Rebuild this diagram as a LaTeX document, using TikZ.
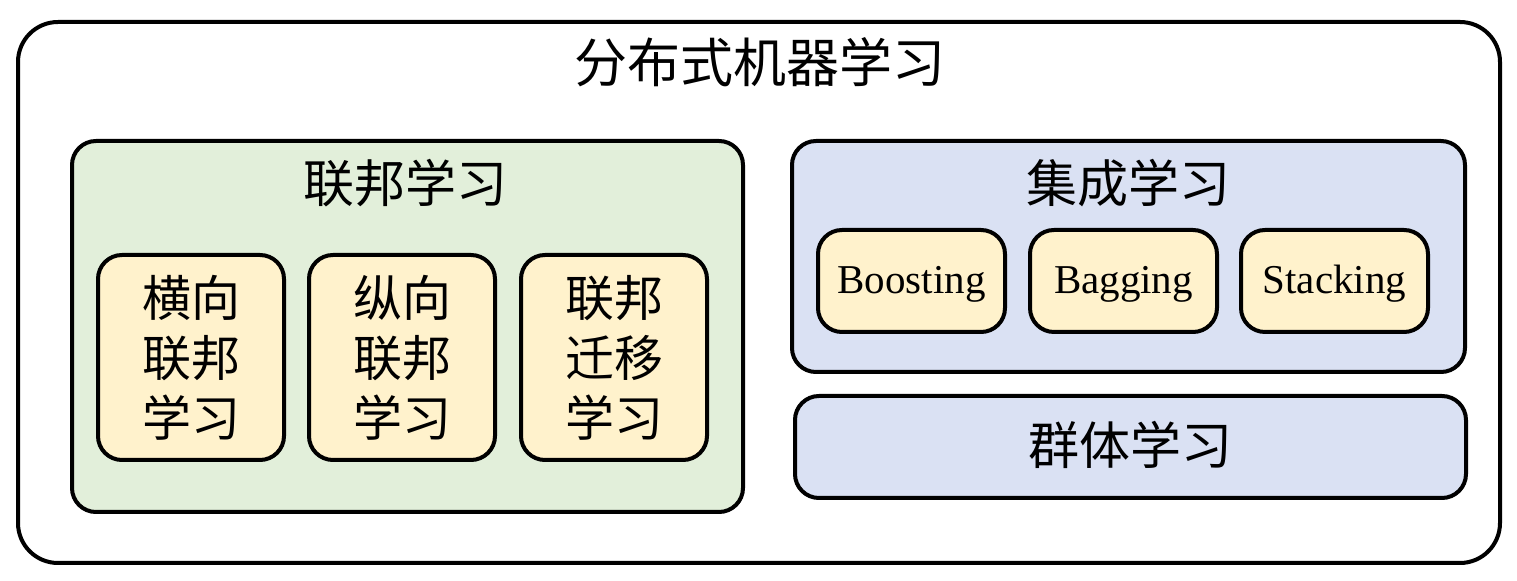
\documentclass[tikz,border=0pt]{standalone}
\usepackage{fontspec}
\setmainfont{Liberation Serif}
\newfontfamily\cjk{Noto Sans CJK SC}
\definecolor{gfill}{HTML}{E2EFDA}
\definecolor{yfill}{HTML}{FFF2CC}
\definecolor{bfill}{HTML}{DAE1F3}
\begin{document}
\begin{tikzpicture}[x=0.5pt,y=-0.5pt,
  box/.style={draw=black,line width=2pt,rounded corners=#1},
  box/.default=12pt,
  cjktitle/.style={font=\cjk\fontsize{25.5}{28}\selectfont},
  cjkinner/.style={font=\cjk\fontsize{24.5}{30}\selectfont,align=center},
  entext/.style={font=\fontsize{20.5}{24}\selectfont}]
\useasboundingbox (0,0) rectangle (1517,581);
% outer
\draw[box=20pt,fill=white] (18,22) rectangle (1500,563);
\node[font=\cjk\fontsize{26.5}{28}\selectfont] (title) at (760,62) {分布式机器学习};
% federated
\draw[box=12pt,fill=gfill] (72,141) rectangle (743,512);
\node[cjktitle] (fed) at (405,183) {联邦学习};
\draw[box=12pt,fill=yfill] (98,255) rectangle (284,460);
\node[cjkinner] (h) at (191,358) {横向\\联邦\\学习};
\draw[box=12pt,fill=yfill] (309,255) rectangle (495,460);
\node[cjkinner] (v) at (402,358) {纵向\\联邦\\学习};
\draw[box=12pt,fill=yfill] (521,255) rectangle (707,460);
\node[cjkinner] (t) at (614,358) {联邦\\迁移\\学习};
% ensemble
\draw[box=12pt,fill=bfill] (792,141) rectangle (1465,372);
\node[cjktitle] (ens) at (1128,183) {集成学习};
\draw[box=12pt,fill=yfill] (818,230) rectangle (1005,332);
\node[entext] (boost) at (911.5,284) {Boosting};
\draw[box=12pt,fill=yfill] (1030,230) rectangle (1217,332);
\node[entext] (bag) at (1123.5,284) {Bagging};
\draw[box=12pt,fill=yfill] (1241,230) rectangle (1428,332);
\node[entext] (stack) at (1334.5,284) {Stacking};
% swarm
\draw[box=12pt,fill=bfill] (795,396) rectangle (1466,498);
\node[cjktitle] (swarm) at (1130,445) {群体学习};
\end{tikzpicture}
\end{document}
